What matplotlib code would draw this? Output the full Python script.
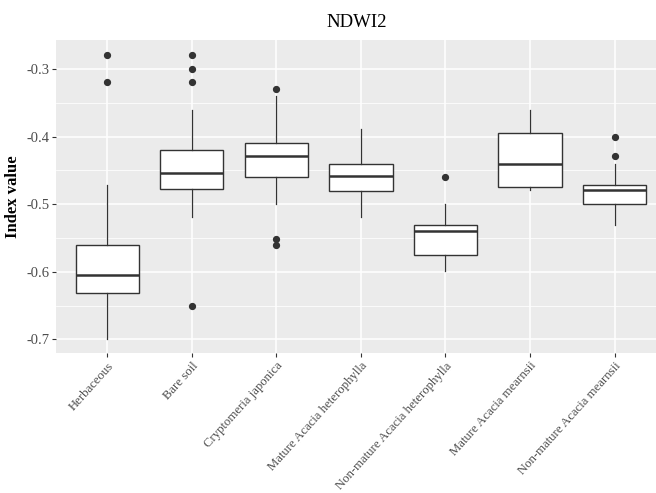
import matplotlib
matplotlib.use("Agg")
import matplotlib.pyplot as plt
from matplotlib.ticker import MultipleLocator

categories = ["Herbaceous", "Bare soil", "Cryptomeria japonica",
              "Mature Acacia heterophylla", "Non-mature Acacia heterophylla",
              "Mature Acacia mearnsii", "Non-mature Acacia mearnsii"]
whisker_low = [-0.700, -0.519, -0.499, -0.519, -0.599, -0.479, -0.530]
q1 = [-0.631, -0.478, -0.460, -0.480, -0.575, -0.475, -0.500]
median = [-0.605, -0.454, -0.429, -0.459, -0.539, -0.440, -0.479]
q3 = [-0.560, -0.420, -0.410, -0.440, -0.531, -0.395, -0.472]
whisker_high = [-0.471, -0.360, -0.340, -0.389, -0.500, -0.360, -0.440]
outliers = [[-0.28, -0.32], [-0.28, -0.30, -0.32, -0.651], [-0.33, -0.551, -0.560],
            [], [-0.46], [], [-0.40, -0.429]]

serif = ["Liberation Serif", "DejaVu Serif"]
plt.rcParams["font.family"] = serif

stats = []
for i, name in enumerate(categories):
    stats.append({"label": name, "whislo": whisker_low[i], "q1": q1[i], "med": median[i],
                  "q3": q3[i], "whishi": whisker_high[i], "fliers": outliers[i]})

fig = plt.figure(figsize=(6.56, 4.93), dpi=100)
ax = fig.add_axes([0.0861, 0.284, 0.9139, 0.6351])
ax.set_facecolor("#EBEBEB")

pos = list(range(1, len(categories) + 1))
ax.bxp(stats, positions=pos, widths=0.75, patch_artist=True, showcaps=False,
       boxprops=dict(facecolor="white", edgecolor="#333333", linewidth=1.0),
       medianprops=dict(color="#333333", linewidth=1.8),
       whiskerprops=dict(color="#333333", linewidth=0.9),
       flierprops=dict(marker="o", markerfacecolor="#333333", markeredgecolor="#333333",
                       markersize=4.2),
       zorder=3)

ax.set_xlim(0.4, 7.49)
ax.set_ylim(-0.720, -0.257)
ax.yaxis.set_minor_locator(MultipleLocator(0.05))
ax.set_yticks([-0.7, -0.6, -0.5, -0.4, -0.3])
ax.set_yticklabels(["-0.7", "-0.6", "-0.5", "-0.4", "-0.3"])
ax.set_xticks(pos)
ax.set_xticklabels(categories, rotation=48, ha="right", va="top", rotation_mode="anchor",
                   fontsize=9.2)

ax.grid(which="major", color="white", linewidth=1.1, zorder=0)
ax.grid(which="minor", axis="y", color="white", linewidth=0.55, zorder=0)
ax.set_axisbelow(True)
for s in ax.spines.values():
    s.set_visible(False)
ax.tick_params(which="major", length=3, width=0.8, color="#333333", labelcolor="#4D4D4D", pad=2)
ax.tick_params(axis="y", labelsize=10.5)
ax.tick_params(which="minor", length=0)

ax.set_ylabel("Index value", fontsize=12, fontweight="bold", labelpad=4)
ax.set_title("NDWI2", fontsize=13.5, pad=9)

fig.savefig("out.png", dpi=100)
